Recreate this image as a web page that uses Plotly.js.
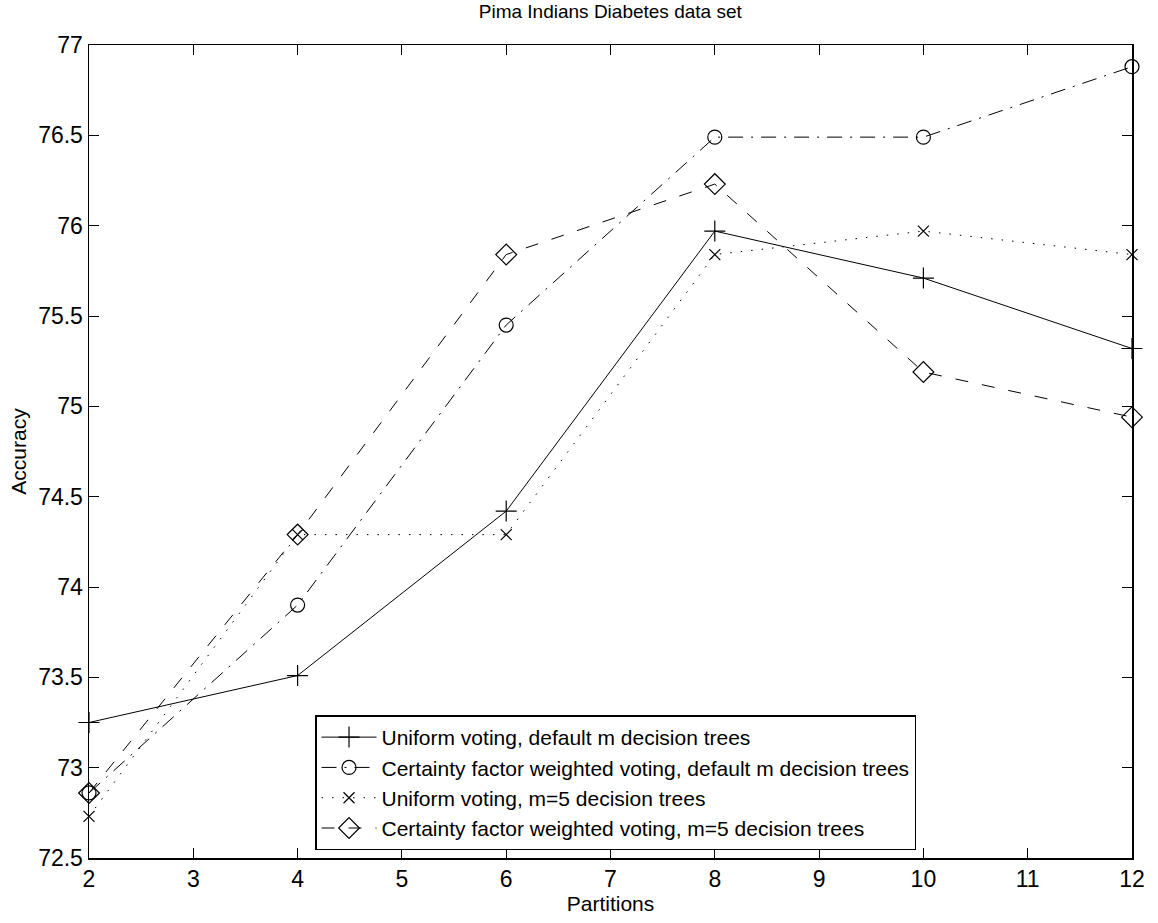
<!DOCTYPE html>
<html>
<head>
<meta charset="utf-8">
<script src="https://cdn.plot.ly/plotly-3.0.1.min.js"></script>
<style>html,body{margin:0;padding:0;background:#fff;}#chart{width:1158px;height:923px;}</style>
</head>
<body>
<div id="chart"></div>
<script>
const partitions = [2, 4, 6, 8, 10, 12];
const uniformDefault = [73.25, 73.51, 74.42, 75.97, 75.71, 75.32];
const cfDefault = [72.86, 73.90, 75.45, 76.49, 76.49, 76.88];
const uniformM5 = [72.73, 74.29, 74.29, 75.84, 75.97, 75.84];
const cfM5 = [72.86, 74.29, 75.84, 76.23, 75.19, 74.94];
const seriesNames = [
  "Uniform voting, default m decision trees",
  "Certainty factor weighted voting, default m decision trees",
  "Uniform voting, m=5 decision trees",
  "Certainty factor weighted voting, m=5 decision trees"
];
const xTicks = [2,3,4,5,6,7,8,9,10,11,12];
const yTicks = [72.5,73,73.5,74,74.5,75,75.5,76,76.5,77];

function tr(y, name, dash, symbol, size) {
  return {
    x: partitions, y: y, name: name, type: 'scatter', mode: 'lines+markers',
    cliponaxis: false,
    line: {color: '#000', width: 1, dash: dash},
    marker: {symbol: symbol, size: size, color: '#000', line: {color: '#000', width: 1.2}}
  };
}
const data = [
  tr(uniformDefault, seriesNames[0], 'solid', 'cross-thin-open', 15),
  tr(cfDefault, seriesNames[1], '15px,8px,2px,8px', 'circle-open', 14),
  tr(uniformM5, seriesNames[2], '1.5px,9px', 'x-thin-open', 11),
  tr(cfM5, seriesNames[3], '13px,14px', 'diamond-open', 16)
];
const font = {family: '"Liberation Sans", Arial, Helvetica, sans-serif', color: '#000'};
const axisCommon = {
  showline: true, linecolor: '#000', linewidth: 1.5, mirror: 'ticks',
  ticks: 'inside', ticklen: 10, tickwidth: 1, tickcolor: '#000',
  showgrid: false, zeroline: false, automargin: false,
  tickfont: Object.assign({size: 23}, font)
};
const layout = {
  width: 1158, height: 923,
  paper_bgcolor: '#fff', plot_bgcolor: '#fff',
  margin: {l: 89, r: 26, t: 45, b: 65},
  font: font,
  showlegend: true,
  title: {text: 'Pima Indians Diabetes data set', font: Object.assign({size: 19}, font),
          x: 0.527, xanchor: 'center', y: 0.988, yanchor: 'middle'},
  xaxis: Object.assign({}, axisCommon, {
    range: [2, 12], tickvals: xTicks, ticktext: xTicks.map(String),
    title: {text: 'Partitions', font: Object.assign({size: 21}, font), standoff: 2}
  }),
  yaxis: Object.assign({}, axisCommon, {
    range: [72.5, 77], tickvals: yTicks, ticktext: yTicks.map(String),
    title: {text: 'Accuracy', font: Object.assign({size: 21}, font), standoff: 6}
  }),
  legend: {
    x: 0.2167, y: 0.0923, xanchor: 'left', yanchor: 'middle',
    bordercolor: '#000', borderwidth: 1.5, bgcolor: '#fff',
    font: Object.assign({size: 21}, font),
    tracegroupgap: 0, itemwidth: 55
  }
};
Plotly.newPlot('chart', data, layout, {displayModeBar: false, staticPlot: true});
</script>
</body>
</html>
